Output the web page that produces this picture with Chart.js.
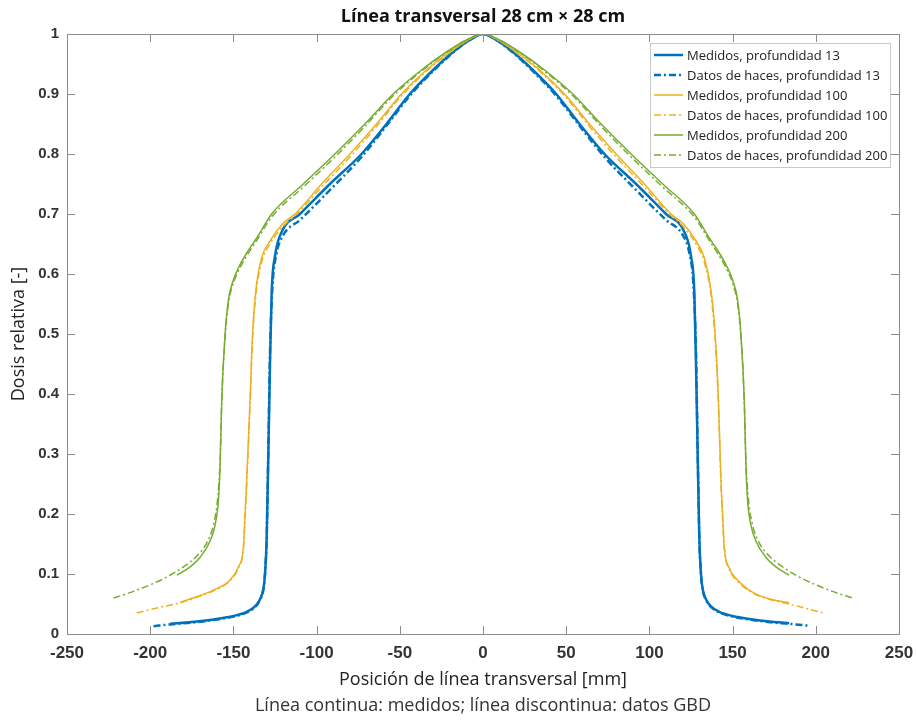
<!DOCTYPE html>
<html lang="es">
<head>
<meta charset="utf-8">
<title>Línea transversal 28 cm × 28 cm</title>
<script src="https://cdn.jsdelivr.net/npm/chart.js@4.4.1/dist/chart.umd.min.js"></script>
<style>
  html, body { margin: 0; padding: 0; background: #fff; }
  #wrap { width: 917px; height: 722px; }
</style>
</head>
<body>
<div id="wrap"><canvas id="perfil" width="917" height="722"></canvas></div>
<script>
/* ============================================================
   Perfil transversal 28 x 28 cm — medidos vs datos de haces
   ============================================================ */

const TITULO = "Línea transversal 28 cm × 28 cm";
const NOTA = "Línea continua: medidos; línea discontinua: datos GBD";
const ETIQUETAS = [
  "Medidos, profundidad 13",
  "Datos de haces, profundidad 13",
  "Medidos, profundidad 100",
  "Datos de haces, profundidad 100",
  "Medidos, profundidad 200",
  "Datos de haces, profundidad 200"
];
const X_TICKS = [-250, -200, -150, -100, -50, 0, 50, 100, 150, 200, 250];
const Y_TICKS = [0, 0.1, 0.2, 0.3, 0.4, 0.5, 0.6, 0.7, 0.8, 0.9, 1];

// profundidad 13 — medidos
const x13m = [-188,-175,-160,-150,-142,-137,-134,-132,-131,-130,-129,-128,-127,-125,-121,-110,-92,-73,-58,-44,-30,-18,-8,
  0, 8,18,30,44,58,73,92,110,121,125,127,128,129,130,131,132,134,137,142,150,160,175,184];
const y13m = [0.017,0.020,0.025,0.030,0.037,0.046,0.058,0.075,0.10,0.16,0.30,0.45,0.57,0.63,0.67,0.70,0.75,0.80,0.85,0.90,0.94,0.97,0.99,
  1.0, 0.99,0.97,0.94,0.90,0.85,0.80,0.75,0.70,0.67,0.63,0.57,0.45,0.30,0.16,0.10,0.075,0.058,0.046,0.037,0.030,0.025,0.020,0.018];

// profundidad 13 — datos de haces
const x13b = [-198,-188,-175,-160,-150,-142,-137,-134,-132,-131,-130,-129,-128,-126.5,-124,-120,-110,-92,-73,-58,-44,-30,-18,-8,
  0, 8,18,30,44,58,73,92,110,120,124,126.5,128,129,130,131,132,134,137,142,150,160,175,188,195];
const y13b = [0.013,0.016,0.019,0.024,0.029,0.036,0.045,0.057,0.074,0.10,0.16,0.31,0.47,0.58,0.635,0.665,0.69,0.74,0.795,0.847,0.897,0.938,0.969,0.99,
  1.0, 0.99,0.969,0.938,0.897,0.847,0.795,0.74,0.69,0.665,0.635,0.58,0.47,0.31,0.16,0.10,0.074,0.057,0.045,0.036,0.029,0.024,0.019,0.016,0.014];

// profundidad 100 — medidos
const x100m = [-182,-172,-162,-152,-147,-144,-143,-142,-140,-138.5,-136.5,-133,-128,-120,-113,-97,-80,-64,-49,-34,-20,-9,
  0, 9,20,34,49,64,80,97,113,120,128,133,137,139.5,141.5,143,144,145,148,153,163,173,184];
const y100m = [0.053,0.062,0.073,0.09,0.112,0.145,0.20,0.257,0.39,0.50,0.573,0.627,0.655,0.685,0.70,0.75,0.80,0.85,0.90,0.94,0.97,0.99,
  1.0, 0.99,0.97,0.94,0.90,0.85,0.80,0.75,0.70,0.685,0.655,0.627,0.573,0.50,0.39,0.257,0.20,0.145,0.11,0.09,0.068,0.058,0.052];

// profundidad 100 — datos de haces
const x100b = [-208,-195,-182,-172,-162,-152,-147,-144,-143,-142,-140,-138.5,-136.5,-133,-128,-120,-113,-97,-80,-64,-49,-34,-20,-9,
  0, 9,20,34,49,64,80,97,113,120,128,133,137,139.5,141.5,143,144,145,148,153,163,173,184,195,205];
const y100b = [0.035,0.044,0.052,0.061,0.072,0.089,0.11,0.142,0.19,0.25,0.38,0.49,0.565,0.62,0.65,0.68,0.697,0.745,0.795,0.846,0.897,0.938,0.969,0.99,
  1.0, 0.99,0.969,0.938,0.897,0.846,0.795,0.745,0.697,0.68,0.65,0.62,0.565,0.49,0.38,0.25,0.19,0.142,0.108,0.088,0.067,0.057,0.05,0.042,0.035];

// profundidad 200 — medidos
const x200m = [-184,-176,-170,-164,-161,-159,-158,-157,-155,-153,-150,-147,-142,-136,-127,-108,-89,-71,-54,-37,-22,-10,
  0, 10,22,37,54,71,89,108,127,136,142,147,150,153,155,157,158,159,161,164,170,176,184];
const y200m = [0.098,0.112,0.128,0.155,0.182,0.223,0.28,0.39,0.50,0.557,0.59,0.61,0.635,0.66,0.70,0.75,0.80,0.85,0.90,0.94,0.97,0.99,
  1.0, 0.99,0.97,0.94,0.90,0.85,0.80,0.75,0.70,0.66,0.635,0.61,0.59,0.557,0.50,0.39,0.28,0.223,0.182,0.155,0.128,0.112,0.098];

// profundidad 200 — datos de haces
const x200b = [-222,-210,-200,-190,-180,-172,-166,-162,-159.5,-158,-157,-155,-153,-150,-147,-142,-136,-127,-108,-89,-71,-54,-37,-22,-10,
  0, 10,22,37,54,71,89,108,127,136,142,147,150,153,155,157,158,159.5,162,166,172,180,190,200,210,222];
const y200b = [0.06,0.071,0.082,0.095,0.112,0.13,0.152,0.182,0.225,0.29,0.39,0.495,0.55,0.585,0.605,0.63,0.656,0.695,0.745,0.795,0.846,0.897,0.938,0.969,0.99,
  1.0, 0.99,0.969,0.938,0.897,0.846,0.795,0.745,0.695,0.656,0.63,0.605,0.585,0.55,0.495,0.39,0.29,0.225,0.182,0.152,0.13,0.112,0.095,0.082,0.071,0.06];

const AZUL = "#0072BD";
const AMARILLO = "#EDB120";
const VERDE = "#77AC30";
const PUNTO_RAYA = [7, 3, 2, 3];

function puntos(xs, ys) {
  return xs.map((x, i) => ({ x: x, y: ys[i] }));
}

function serie(label, xs, ys, color, width, dash, order) {
  return {
    label: label,
    data: puntos(xs, ys),
    borderColor: color,
    backgroundColor: color,
    borderWidth: width,
    borderDash: dash,
    pointRadius: 0,
    cubicInterpolationMode: "monotone",
    fill: false,
    order: order
  };
}

/* ── marco con marcas hacia dentro (estilo MATLAB) ── */
const marcoPlugin = {
  id: "marco",
  afterDatasetsDraw(chart) {
    const { ctx: c, chartArea: a, scales } = chart;
    const largo = 8;
    c.save();
    c.strokeStyle = "#8c8c8c";
    c.lineWidth = 1;
    c.setLineDash([]);
    c.beginPath();
    scales.x.ticks.forEach(t => {
      const px = Math.round(scales.x.getPixelForValue(t.value)) + 0.5;
      c.moveTo(px, a.bottom); c.lineTo(px, a.bottom - largo);
      c.moveTo(px, a.top); c.lineTo(px, a.top + largo);
    });
    scales.y.ticks.forEach(t => {
      const py = Math.round(scales.y.getPixelForValue(t.value)) + 0.5;
      c.moveTo(a.left, py); c.lineTo(a.left + largo, py);
      c.moveTo(a.right, py); c.lineTo(a.right - largo, py);
    });
    c.stroke();
    c.strokeRect(Math.round(a.left) + 0.5, Math.round(a.top) + 0.5, Math.round(a.right - a.left), Math.round(a.bottom - a.top));
    c.restore();
  }
};

/* ── leyenda dentro del área, arriba a la derecha ── */
const leyendaPlugin = {
  id: "leyenda",
  afterDatasetsDraw(chart) {
    const { ctx: c, chartArea: a } = chart;
    const sets = chart.data.datasets;
    const bw = 240, bh = 124;
    const bx = a.right - 9 - bw, by = a.top + 9;
    c.save();
    c.fillStyle = "#fff";
    c.fillRect(bx, by, bw, bh);
    c.strokeStyle = "#c8c8c8";
    c.lineWidth = 1;
    c.strokeRect(bx + 0.5, by + 0.5, bw, bh);
    c.font = "13px 'Open Sans'";
    c.textBaseline = "middle";
    sets.forEach((ds, i) => {
      const y = by + 12 + i * 20;
      c.strokeStyle = ds.borderColor;
      c.lineWidth = ds.borderWidth;
      c.setLineDash(ds.borderDash || []);
      c.beginPath();
      c.moveTo(bx + 4, y);
      c.lineTo(bx + 33, y);
      c.stroke();
      c.setLineDash([]);
      c.fillStyle = "#222";
      c.fillText(ds.label, bx + 37, y + 1);
    });
    c.restore();
  }
};

/* ── título arriba y nota abajo, centrados en el área ── */
const textosPlugin = {
  id: "textos",
  afterDraw(chart) {
    const { ctx: c, chartArea: a } = chart;
    const cx = (a.left + a.right) / 2;
    c.save();
    c.textAlign = "center";
    c.textBaseline = "middle";
    c.fillStyle = "#111";
    c.font = "bold 18px 'Open Sans'";
    c.fillText(TITULO, cx, 17);
    c.fillStyle = "#333";
    c.font = "18px 'Open Sans'";
    c.fillText(NOTA, cx, 706);
    c.restore();
  }
};

document.addEventListener("DOMContentLoaded", () => {
  const ctx = document.getElementById("perfil");

  new Chart(ctx, {
    type: "line",
    data: {
      datasets: [
        serie(ETIQUETAS[0], x13m, y13m, AZUL, 2.5, [], 5),
        serie(ETIQUETAS[1], x13b, y13b, AZUL, 2.5, PUNTO_RAYA, 4),
        serie(ETIQUETAS[2], x100m, y100m, AMARILLO, 1.5, [], 3),
        serie(ETIQUETAS[3], x100b, y100b, AMARILLO, 1.5, PUNTO_RAYA, 2),
        serie(ETIQUETAS[4], x200m, y200m, VERDE, 1.5, [], 1),
        serie(ETIQUETAS[5], x200b, y200b, VERDE, 1.5, PUNTO_RAYA, 0)
      ]
    },
    options: {
      responsive: false,
      animation: false,
      events: [],
      layout: { padding: { top: 34, right: 18, left: 0, bottom: 0 } },
      plugins: {
        legend: { display: false },
        title: { display: false },
        tooltip: { enabled: false }
      },
      scales: {
        x: {
          type: "linear",
          min: -250,
          max: 250,
          afterFit(s) { s.height = 88; s.paddingLeft = 0; s.paddingRight = 0; },
          afterBuildTicks(s) { s.ticks = X_TICKS.map(v => ({ value: v })); },
          grid: { display: false, drawTicks: false },
          border: { display: false },
          ticks: {
            autoSkip: false,
            maxRotation: 0,
            padding: 9,
            color: "#333",
            font: { family: "'Liberation Sans', Arial, sans-serif", size: 17, weight: "bold" }
          },
          title: {
            display: true,
            text: "Posición de línea transversal [mm]",
            color: "#222",
            font: { family: "'Open Sans'", size: 18 },
            padding: { top: 0, bottom: 31 }
          }
        },
        y: {
          type: "linear",
          min: 0,
          max: 1,
          afterFit(s) { s.width = 67; },
          afterBuildTicks(s) { s.ticks = Y_TICKS.map(v => ({ value: v })); },
          grid: { display: false, drawTicks: false },
          border: { display: false },
          ticks: {
            autoSkip: false,
            padding: 8,
            color: "#333",
            font: { family: "'Liberation Sans', Arial, sans-serif", size: 15, weight: "bold" },
            callback: v => String(v)
          },
          title: {
            display: true,
            text: "Dosis relativa [-]",
            color: "#222",
            font: { family: "'Open Sans'", size: 18 },
            padding: { top: 8, bottom: 0 }
          }
        }
      }
    },
    plugins: [marcoPlugin, leyendaPlugin, textosPlugin]
  });
});
</script>
</body>
</html>
